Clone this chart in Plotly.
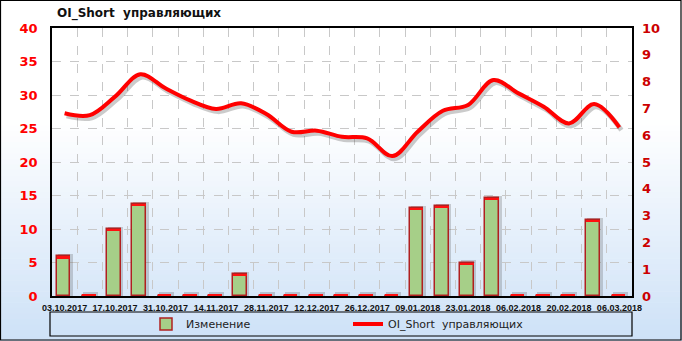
import plotly.graph_objects as go

dates = ["03.10.2017", "10.10.2017", "17.10.2017", "24.10.2017", "31.10.2017", "07.11.2017",
         "14.11.2017", "21.11.2017", "28.11.2017", "05.12.2017", "12.12.2017", "19.12.2017",
         "26.12.2017", "02.01.2018", "09.01.2018", "16.01.2018", "23.01.2018", "30.01.2018",
         "06.02.2018", "13.02.2018", "20.02.2018", "27.02.2018", "06.03.2018"]
change = [5.9, 0, 10.0, 13.8, 0, 0, 0, 3.3, 0, 0, 0, 0, 0, 0, 13.2, 13.4, 5.0, 14.6, 0, 0, 0, 11.4, 0]
oi_short = [6.82, 6.75, 7.44, 8.27, 7.75, 7.29, 6.98, 7.19, 6.79, 6.13, 6.17, 5.94, 5.88, 5.22,
            6.13, 6.91, 7.13, 8.06, 7.56, 7.06, 6.44, 7.16, 6.29]
left_ticks = list(range(0, 41, 5))
right_ticks = list(range(0, 11, 1))

idx = list(range(len(dates)))
W, H = 682, 341
L, R, T, B = 52, 632, 28, 296
pw, ph = R - L, B - T

def px_x(p):
    return (p - L) / pw

def px_y(p):
    return (B - p) / ph

fig = go.Figure()

CAP = 0.32
# bar shadow
fig.add_trace(go.Bar(x=idx, y=[max(v, CAP) + 0.3 for v in change], width=0.6, offset=-0.27,
                     marker=dict(color="rgba(60,60,60,0.22)", line=dict(width=0)),
                     showlegend=False, hoverinfo="skip"))
# bars
fig.add_trace(go.Bar(x=idx, y=change, width=0.54, offset=-0.31, name="Изменение",
                     marker=dict(color="#a6cf88", line=dict(color="#b02020", width=1.5))))
# red caps on bars (also marks zero values)
fig.add_trace(go.Bar(x=idx, y=[CAP] * len(change), base=[max(v - CAP, 0) for v in change],
                     width=0.54, offset=-0.31,
                     marker=dict(color="#ff1010", line=dict(width=0)),
                     showlegend=False, hoverinfo="skip"))

# line shadow
fig.add_trace(go.Scatter(x=[i + 0.08 for i in idx], y=[v - 0.1 for v in oi_short], yaxis="y2",
                         mode="lines", line=dict(color="rgba(70,70,70,0.28)", width=5, shape="spline"),
                         showlegend=False, hoverinfo="skip"))
fig.add_trace(go.Scatter(x=idx, y=oi_short, yaxis="y2", mode="lines", name="OI_Short  управляющих",
                         line=dict(color="#ff0000", width=4, shape="spline")))

shapes = []
# background gradient
top_c = (255, 255, 255)
bot_c = (205, 225, 247)
y_start, n = 120, 40
shapes.append(dict(type="rect", xref="paper", yref="paper", x0=px_x(0), x1=px_x(W),
                   y0=px_y(0), y1=px_y(y_start), fillcolor="white", line=dict(width=0), layer="below"))
step = (H - y_start) / n
for k in range(n):
    t = (k + 0.5) / n
    c = tuple(round(top_c[j] + (bot_c[j] - top_c[j]) * t) for j in range(3))
    y0 = y_start + k * step
    shapes.append(dict(type="rect", xref="paper", yref="paper", x0=px_x(0), x1=px_x(W),
                       y0=px_y(y0 + step + 0.5), y1=px_y(y0), fillcolor="rgb(%d,%d,%d)" % c,
                       line=dict(width=0), layer="below"))
# figure border
shapes.append(dict(type="rect", xref="paper", yref="paper", x0=px_x(0.5), x1=px_x(W - 1),
                   y0=px_y(H - 1), y1=px_y(0.5), line=dict(color="black", width=1.2)))
# legend box
shapes.append(dict(type="rect", xref="paper", yref="paper", x0=px_x(50), x1=px_x(632),
                   y0=px_y(336), y1=px_y(312), line=dict(color="black", width=1.2)))

fig.update_layout(
    width=W, height=H,
    margin=dict(l=L, r=W - R, t=T, b=H - B, pad=0, autoexpand=False),
    paper_bgcolor="white", plot_bgcolor="rgba(0,0,0,0)",
    barmode="overlay", bargap=0,
    shapes=shapes,
    showlegend=True,
    legend=dict(orientation="h", x=px_x(146), xanchor="left", y=px_y(324), yanchor="middle",
                entrywidth=157, entrywidthmode="pixels",
                font=dict(family="DejaVu Sans", size=11, color="#222222"),
                bgcolor="rgba(0,0,0,0)", borderwidth=0, traceorder="normal"),
    annotations=[dict(text="<b>OI_Short  управляющих</b>", xref="paper", yref="paper",
                      x=px_x(55), y=px_y(14), xanchor="left", yanchor="middle", showarrow=False,
                      font=dict(family="DejaVu Sans", size=12, color="#111111"))],
    xaxis=dict(range=[-0.5, len(dates) - 0.5], tickmode="array",
               tickvals=idx[::2], ticktext=dates[::2],
               tickfont=dict(family="Liberation Sans", size=9, color="#111111", weight="bold"),
               ticks="", ticklabelstandoff=2, showgrid=False, zeroline=False,
               showline=True, linecolor="black", linewidth=1.5, mirror=True,
               minor=dict(tickvals=[i + 0.5 for i in idx[:-1]], showgrid=True,
                          gridcolor="#c8c8c8", griddash="dash", gridwidth=1, ticks="")),
    yaxis=dict(range=[0, 40], tickvals=left_ticks, showgrid=True, gridcolor="#c8c8c8",
               griddash="dash", gridwidth=1, zeroline=False,
               tickfont=dict(family="DejaVu Sans", size=13, color="#ff0000", weight="bold"),
               ticks="", ticklabelstandoff=10,
               showline=True, linecolor="black", linewidth=1.5, mirror=True),
    yaxis2=dict(range=[0, 10], tickvals=right_ticks, overlaying="y", side="right",
                showgrid=False, zeroline=False,
                tickfont=dict(family="DejaVu Sans", size=13, color="#cc0000", weight="bold"),
                ticks="", ticklabelstandoff=9, showline=False),
)

fig.write_html("out.html")
